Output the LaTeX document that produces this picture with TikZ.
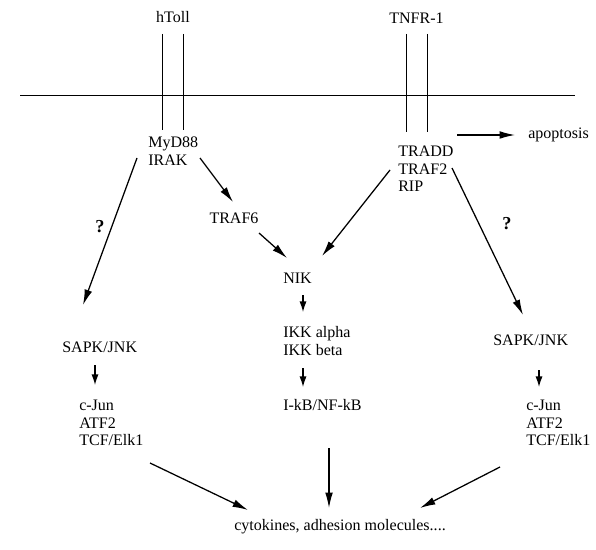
\documentclass[tikz,border=0pt]{standalone}
\usepackage{fontspec}
\setmainfont{Liberation Serif}
\usetikzlibrary{positioning}
\usetikzlibrary{arrows.meta}
\usetikzlibrary{calc}
\tikzset{
    mynode/.style = {inner sep=0pt, align=left, font=\fontsize{11.4pt}{12.4pt}\selectfont},
    mynodel/.style = {mynode, anchor=west},
    qnode/.style = {inner sep=0pt, font=\fontsize{13pt}{14pt}\selectfont\bfseries},
    memb/.style = {line width=0.7pt},
    edgen/.style = {-{Latex[length=11pt,width=5.5pt]},line width=0.9pt},
    edges/.style = {-{Latex[length=7.5pt,width=5pt]},line width=0.9pt}
}

\begin{document}
\begin{tikzpicture}[x=0.025cm,y=-0.025cm]
\useasboundingbox (0,0) rectangle (596,550);

% receptors and membrane
\node[mynode] at (173,17) (htoll) {hToll};
\node[mynode] at (416.5,18) (tnfr) {TNFR-1};
\draw[memb] (20,95) -- (575,95);
\draw[memb] ($(htoll)+(-11,17)$) -- ($(htoll)+(-11,113)$);
\draw[memb] ($(htoll)+(10,17)$) -- ($(htoll)+(10,113)$);
\draw[memb] ($(tnfr)+(-10.5,16)$) -- ($(tnfr)+(-10.5,114)$);
\draw[memb] ($(tnfr)+(10.5,16)$) -- ($(tnfr)+(10.5,114)$);

\node[mynodel] at (148,151) (myd) {MyD88\\IRAK};
\node[mynodel] at (398,169) (tradd) {TRADD\\TRAF2\\RIP};
\node[mynodel] at (528,135) (apop) {apoptosis};
\node[mynode] at (234,218) (traf6) {TRAF6};
\node[mynodel] at (283,278) (nik) {NIK};
\node[mynodel] at (283,341) (ikk) {IKK alpha\\IKK beta};
\node[mynodel] at (283,405) (ikb) {I-kB/NF-kB};
\node[mynodel] at (62,347) (sapkl) {SAPK/JNK};
\node[mynodel] at (79,423) (cjunl) {c-Jun\\ATF2\\TCF/Elk1};
\node[mynodel] at (493,340) (sapkr) {SAPK/JNK};
\node[mynodel] at (526,423) (cjunr) {c-Jun\\ATF2\\TCF/Elk1};
\node[mynode] at (340,527) (cyt) {cytokines, adhesion molecules....};
\node[qnode] at (100,227) (ql) {?};
\node[qnode] at (507,224) (qr) {?};
%
\draw[edgen] ($(myd.west)+(52,7)$) -- ($(traf6)+(-1,-16)$);
\draw[edgen] ($(myd.west)+(-11,7)$) -- ($(sapkl.west)+(21,-42)$);
\draw[edgen] ($(traf6)+(25,15)$) -- ($(nik.west)+(4,-20)$);
\draw[edgen] ($(tradd.west)+(-8,1)$) -- ($(nik.west)+(39,-22)$);
\draw[edgen] ($(tradd.west)+(54,-1)$) -- ($(sapkr.west)+(30,-25)$);
\draw[edgen] ($(tradd.west)+(59,-34)$) -- ($(apop.west)+(-13,0)$);
\draw[edges] ($(nik.west)+(20,17)$) -- ($(ikk.west)+(20,-29)$);
\draw[edges] ($(ikk.west)+(20,27)$) -- ($(ikb.west)+(20,-18)$);
\draw[edges] ($(sapkl.west)+(33,18)$) -- ($(cjunl.west)+(16,-38)$);
\draw[edges] ($(sapkr.west)+(46,30)$) -- ($(cjunr.west)+(13,-36)$);
\draw[edgen] ($(cjunl.west)+(71,40)$) -- ($(cyt)+(-92,-17)$);
\draw[edgen] ($(ikb.west)+(46,43)$) -- ($(cyt)+(-11,-19)$);
\draw[edgen] ($(cjunr.west)+(-26,44)$) -- ($(cyt)+(80,-19)$);

\end{tikzpicture}
\end{document}
